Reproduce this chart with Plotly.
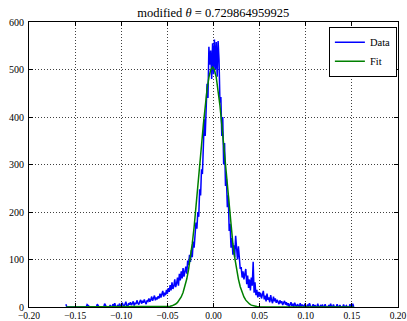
import numpy as np
import plotly.graph_objects as go

# Data: histogram counts, bin spacing 0.001 starting at -0.160
x_start = -0.160
x_step = 0.001
counts = [
    6, 0, 0, 0, 0, 0, 0, 0, 0, 0,
    0, 0, 0, 0, 0, 0, 0, 0, 0, 0,
    0, 0, 0, 5, 3, 0, 0, 0, 0, 0,
    0, 0, 0, 0, 6, 2, 0, 0, 0, 0,
    0, 0, 7, 3, 0, 0, 0, 0, 4, 0,
    0, 6, 2, 8, 0, 0, 3, 0, 7, 4,
    0, 9, 4, 0, 6, 11, 3, 0, 8, 5,
    10, 4, 7, 12, 3, 9, 6, 14, 8, 5,
    11, 15, 7, 13, 9, 16, 10, 6, 14, 12,
    18, 11, 15, 22, 13, 17, 24, 14, 20, 16,
    23, 18, 28, 20, 26, 34, 22, 30, 25, 36,
    28, 40, 32, 46, 35, 52, 38, 44, 58, 42,
    50, 62, 45, 70, 56, 75, 60, 82, 64, 78,
    85, 70, 98, 88, 110, 95, 120, 105, 138, 125,
    150, 178, 165, 200, 190, 248, 235, 290, 280, 350,
    395, 360, 415, 470, 440, 548, 510, 540, 480, 555,
    490, 563, 500, 558, 485, 560, 520, 430, 442, 360,
    400, 300, 345, 255, 270, 210, 235, 160, 175, 125,
    145, 110, 130, 105, 150, 118, 100, 128, 90, 80,
    84, 62, 75, 58, 70, 80, 48, 66, 40, 58,
    35, 62, 45, 95, 30, 52, 25, 36, 20, 32,
    22, 30, 18, 27, 34, 16, 24, 12, 28, 15,
    20, 10, 25, 14, 8, 22, 12, 18, 9, 15,
    11, 6, 14, 8, 12, 4, 9, 13, 5, 10,
    3, 8, 0, 6, 10, 2, 7, 0, 9, 4,
    0, 6, 3, 0, 8, 0, 5, 2, 0, 7,
    0, 0, 5, 0, 8, 3, 0, 0, 6, 0,
    4, 0, 0, 7, 0, 0, 3, 0, 5, 0,
    0, 6, 0, 0, 0, 4, 0, 7, 0, 0,
    5, 0, 0, 0, 6, 0, 0, 4, 0, 0,
    0, 5, 0, 0, 3, 0, 0, 0, 6, 0,
    0, 7, 0,
]
data_x = [round(x_start + i * x_step, 4) for i in range(len(counts))]

# Fit curve values, x grid from -0.061 in steps of 0.002
fit_x_start = -0.061
fit_step = 0.002
fit_half = [0, 0, 0, 0.1, 0.2, 0.5, 0.9, 1.5, 2.5, 4.0, 6.3, 9.6, 14.4, 21.2,
            30.4, 42.8, 58.8, 79.0, 104.0, 133.8, 168.5, 207.6, 250.2, 295.0,
            340.2, 383.9, 423.7, 457.5, 483.3, 499.5]
fit_peak = [505]
fit_vals = fit_half + fit_peak + fit_half[::-1]
fit_x = [round(fit_x_start + i * fit_step, 4) for i in range(len(fit_vals))]
fit_x = [data_x[0]] + fit_x + [data_x[-1]]
fit_vals = [0] + fit_vals + [0]

title_text = "modified <i>θ</i> = 0.729864959925"
x_ticks = [-0.20, -0.15, -0.10, -0.05, 0.00, 0.05, 0.10, 0.15, 0.20]
x_tick_labels = ["\u22120.20", "\u22120.15", "\u22120.10", "\u22120.05", "0.00",
                 "0.05", "0.10", "0.15", "0.20"]
y_ticks = [0, 100, 200, 300, 400, 500, 600]

font_family = "Liberation Serif, DejaVu Serif, serif"

fig = go.Figure()
fig.add_trace(go.Scatter(x=data_x, y=counts, mode="lines", name="Data",
                         line=dict(color="#0000ff", width=1.5)))
fig.add_trace(go.Scatter(x=fit_x, y=fit_vals, mode="lines", name="Fit",
                         line=dict(color="#008000", width=1.5)))

axis_common = dict(
    showline=True, linecolor="black", linewidth=1, mirror="allticks",
    ticks="inside", ticklen=4, tickcolor="black", tickwidth=1,
    showgrid=True, gridcolor="rgba(0,0,0,0.75)", griddash="1px,2px", gridwidth=1,
    zeroline=False, automargin=False,
)

fig.update_layout(
    width=407, height=321,
    margin=dict(l=29, r=9, t=22, b=14, autoexpand=False),
    paper_bgcolor="white", plot_bgcolor="white",
    title=dict(text=title_text, x=0.524, xanchor="center", y=0.962, yanchor="middle",
               font=dict(family=font_family, size=12.5, color="black")),
    xaxis=dict(range=[-0.2, 0.2], tickvals=x_ticks, ticktext=x_tick_labels,
               ticklabelstandoff=0,
               tickfont=dict(family=font_family, size=9.5, color="black"),
               **axis_common),
    yaxis=dict(range=[0, 600], tickvals=y_ticks, ticklabelstandoff=2,
               tickfont=dict(family=font_family, size=10, color="black"),
               **axis_common),
    showlegend=True,
    legend=dict(x=0.997, y=0.983, xanchor="right", yanchor="top",
                bordercolor="black", borderwidth=1, bgcolor="white",
                font=dict(family=font_family, size=10.5, color="black"),
                itemwidth=30, tracegroupgap=0),
)

fig.write_html("out.html")
